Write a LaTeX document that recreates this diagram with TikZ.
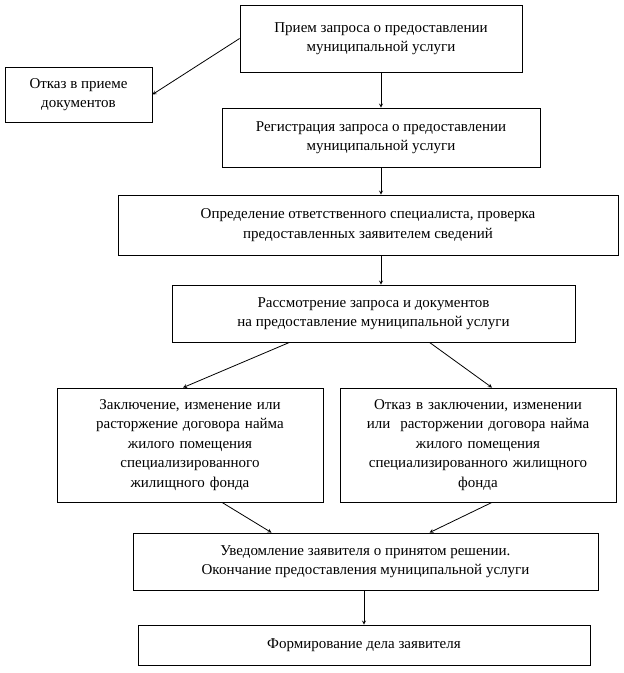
\documentclass[tikz,border=0pt]{standalone}
\usepackage{fontspec}
\setmainfont{Liberation Serif}
\begin{document}
\begin{tikzpicture}[x=1pt,y=-1pt,
            box/.style={draw, thick, rectangle, inner sep=2pt, align=center, font=\fontsize{15}{19.5}\selectfont},
            arr/.style={->, >=stealth, thick}
            ]
            \useasboundingbox (0,0) rectangle (624,673);

            % Nodes with manual coordinates
            \node[box, minimum width=282, minimum height=67] (recv) at (381,38.5) {Прием запроса о предоставлении\\муниципальной услуги};
            \node[box, minimum width=147, minimum height=55] (rej) at (78.5,94.5) {Отказ в приеме\\документов};
            \node[box, minimum width=318, minimum height=59] (reg) at (381,137.5) {Регистрация запроса о предоставлении\\муниципальной услуги};
            \node[box, minimum width=500, minimum height=60] (spec) at (368,225) {Определение ответственного специалиста, проверка\\предоставленных заявителем сведений};
            \node[box, minimum width=403, minimum height=57] (exam) at (373.5,313.5) {Рассмотрение запроса и документов\\на предоставление муниципальной услуги};
            \node[box, minimum width=266, minimum height=114, text width=258] (yes) at (190,445) {Заключение, изменение или\\расторжение договора найма\\жилого помещения\\специализированного\\жилищного фонда};
            \node[box, minimum width=276, minimum height=114, text width=270] (no) at (478,445) {Отказ в заключении, изменении\\или~ расторжении договора найма\\жилого помещения\\специализированного жилищного\\фонда};
            \node[box, minimum width=465, minimum height=57] (notif) at (365.5,561.5) {Уведомление заявителя о принятом решении.\\Окончание предоставления муниципальной услуги};
            \node[box, minimum width=452, minimum height=40] (file) at (364,645) {Формирование дела заявителя};

            % Arrows
            \draw[arr] (recv.west) -- (rej.east);
            \draw[arr] (recv.south) -- (reg.north);
            \draw[arr] (reg.south) -- (reg.south |- spec.north);
            \draw[arr] (spec.south -| reg.south) -- (reg.south |- exam.north);
            \draw[arr] ([xshift=-84]exam.south) -- ([xshift=-7]yes.north);
            \draw[arr] ([xshift=56]exam.south) -- ([xshift=14]no.north);
            \draw[arr] ([xshift=32]yes.south) -- ([xshift=-94]notif.north);
            \draw[arr] ([xshift=14]no.south) -- ([xshift=64]notif.north);
            \draw[arr] (notif.south -| file.north) -- (file.north);
        \end{tikzpicture}
\end{document}
